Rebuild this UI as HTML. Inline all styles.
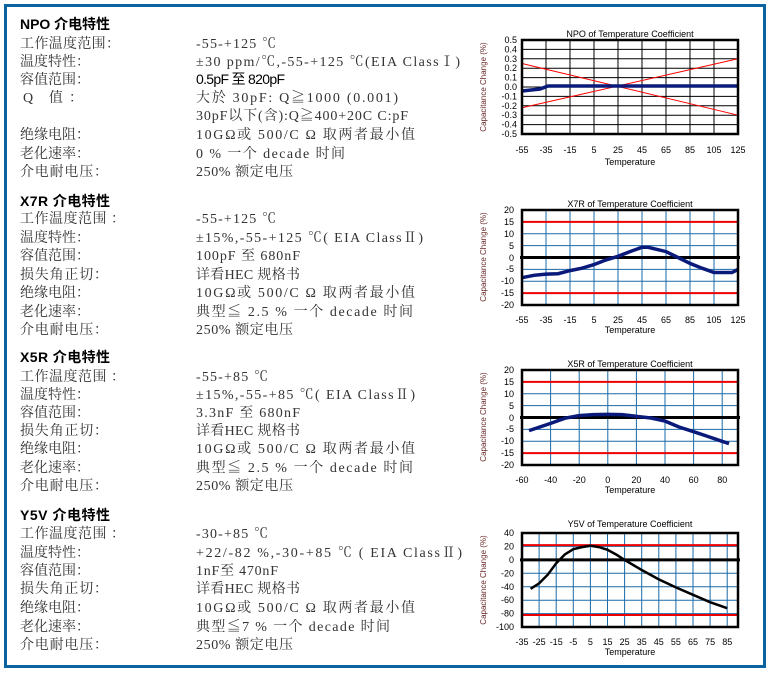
<!DOCTYPE html>
<html><head><meta charset="utf-8"><style>
html,body{margin:0;padding:0;background:#fff;}
svg{display:block;}
.t{font-family:"Liberation Serif","Noto Serif CJK SC",serif;font-size:14px;fill:#333;}
.h{font-family:"Liberation Sans","Noto Sans CJK SC",sans-serif;font-size:14px;font-weight:bold;fill:#000;}
.s{font-family:"Liberation Sans","Noto Sans CJK SC",sans-serif;font-size:14px;fill:#000;}
.a{font-family:"Liberation Sans",sans-serif;font-size:9px;fill:#000;}
.ct{font-family:"Liberation Sans",sans-serif;font-size:9px;fill:#000;}
.yt{font-family:"Liberation Sans",sans-serif;font-size:8px;fill:#6a2a2a;}
</style></head><body>
<svg width="770" height="677" viewBox="0 0 770 677" xmlns="http://www.w3.org/2000/svg">
<rect x="5.5" y="5.5" width="759" height="661" fill="none" stroke="#0a64a0" stroke-width="3"/>

<!-- NPO text -->
<text class="h" x="20" y="29" textLength="90">NPO 介电特性</text>
<text class="t" x="20" y="48" textLength="100">工作温度范围：</text><text class="t" x="196" y="48" textLength="80">-55-+125 ℃</text>
<text class="t" x="20" y="66" textLength="70">温度特性：</text><text class="t" x="196" y="66" textLength="264">±30 ppm/℃,-55-+125 ℃(EIA ClassⅠ)</text>
<text class="t" x="20" y="84" textLength="70">容值范围：</text><text class="s" x="196" y="84" textLength="89">0.5pF 至 820pF</text>
<text class="t" x="23" y="102" textLength="60">Q 值：</text><text class="t" x="196" y="102" textLength="202">大於 30pF: Q≧1000 (0.001)</text>
<text class="t" x="196" y="120" textLength="212">30pF以下(含):Q≧400+20C C:pF</text>
<text class="t" x="20" y="139" textLength="70">绝缘电阻：</text><text class="t" x="196" y="139" textLength="219">10GΩ或 500/C Ω 取两者最小值</text>
<text class="t" x="20" y="158" textLength="70">老化速率：</text><text class="t" x="196" y="158" textLength="149">0 % 一个 decade 时间</text>
<text class="t" x="20" y="176" textLength="88">介电耐电压：</text><text class="t" x="196" y="176" textLength="97">250% 额定电压</text>

<!-- X7R text -->
<text class="h" x="20" y="206" textLength="90">X7R 介电特性</text>
<text class="t" x="20" y="223" textLength="105">工作温度范围 ：</text><text class="t" x="196" y="223" textLength="80">-55-+125 ℃</text>
<text class="t" x="20" y="242" textLength="70">温度特性：</text><text class="t" x="196" y="242" textLength="227">±15%,-55-+125 ℃( EIA ClassⅡ)</text>
<text class="t" x="20" y="260" textLength="70">容值范围：</text><text class="t" x="196" y="260" textLength="104">100pF 至 680nF</text>
<text class="t" x="20" y="279" textLength="88">损失角正切：</text><text class="t" x="196" y="279" textLength="104">详看HEC 规格书</text>
<text class="t" x="20" y="297" textLength="70">绝缘电阻：</text><text class="t" x="196" y="297" textLength="219">10GΩ或 500/C Ω 取两者最小值</text>
<text class="t" x="20" y="316" textLength="70">老化速率：</text><text class="t" x="196" y="316" textLength="217">典型≦ 2.5 % 一个 decade 时间</text>
<text class="t" x="20" y="334" textLength="88">介电耐电压：</text><text class="t" x="196" y="334" textLength="97">250% 额定电压</text>

<!-- X5R text -->
<text class="h" x="20" y="362" textLength="90">X5R 介电特性</text>
<text class="t" x="20" y="381" textLength="105">工作温度范围 ：</text><text class="t" x="196" y="381" textLength="72">-55-+85 ℃</text>
<text class="t" x="20" y="399" textLength="70">温度特性：</text><text class="t" x="196" y="399" textLength="219">±15%,-55-+85 ℃( EIA ClassⅡ)</text>
<text class="t" x="20" y="417" textLength="70">容值范围：</text><text class="t" x="196" y="417" textLength="104">3.3nF 至 680nF</text>
<text class="t" x="20" y="435" textLength="88">损失角正切：</text><text class="t" x="196" y="435" textLength="104">详看HEC 规格书</text>
<text class="t" x="20" y="453" textLength="70">绝缘电阻：</text><text class="t" x="196" y="453" textLength="219">10GΩ或 500/C Ω 取两者最小值</text>
<text class="t" x="20" y="472" textLength="70">老化速率：</text><text class="t" x="196" y="472" textLength="217">典型≦ 2.5 % 一个 decade 时间</text>
<text class="t" x="20" y="490" textLength="88">介电耐电压：</text><text class="t" x="196" y="490" textLength="97">250% 额定电压</text>

<!-- Y5V text -->
<text class="h" x="20" y="520" textLength="90">Y5V 介电特性</text>
<text class="t" x="20" y="538" textLength="105">工作温度范围 ：</text><text class="t" x="196" y="538" textLength="72">-30-+85 ℃</text>
<text class="t" x="20" y="557" textLength="70">温度特性：</text><text class="t" x="196" y="557" textLength="266">+22/-82 %,-30-+85 ℃ ( EIA ClassⅡ)</text>
<text class="t" x="20" y="575" textLength="70">容值范围：</text><text class="t" x="196" y="575" textLength="82">1nF至 470nF</text>
<text class="t" x="20" y="593" textLength="88">损失角正切：</text><text class="t" x="196" y="593" textLength="104">详看HEC 规格书</text>
<text class="t" x="20" y="612" textLength="70">绝缘电阻：</text><text class="t" x="196" y="612" textLength="219">10GΩ或 500/C Ω 取两者最小值</text>
<text class="t" x="20" y="631" textLength="70">老化速率：</text><text class="t" x="196" y="631" textLength="194">典型≦7 % 一个 decade 时间</text>
<text class="t" x="20" y="649" textLength="88">介电耐电压：</text><text class="t" x="196" y="649" textLength="97">250% 额定电压</text>

<!-- NPO chart -->
<text class="ct" x="630" y="37" text-anchor="middle">NPO of  Temperature Coefficient</text>
<path d="M546 40V134M570 40V134M594 40V134M618 40V134M642 40V134M666 40V134M690 40V134M714 40V134M522 49.4H738M522 58.8H738M522 68.2H738M522 77.6H738M522 87H738M522 96.4H738M522 105.8H738M522 115.2H738M522 124.6H738" stroke="#000" stroke-width="1"/>
<line x1="522" y1="63.5" x2="738" y2="115.2" stroke="#f00" stroke-width="1"/>
<line x1="522" y1="107.7" x2="738" y2="58.8" stroke="#f00" stroke-width="1"/>
<path d="M522 91L540 89L548 86L738 86" stroke="#0a1a7a" stroke-width="3.5" fill="none"/>
<rect x="522" y="40" width="216" height="94" fill="none" stroke="#000" stroke-width="2.5"/>
<g class="a" text-anchor="end">
<text x="517" y="43">0.5</text><text x="517" y="52.4">0.4</text><text x="517" y="61.8">0.3</text><text x="517" y="71.2">0.2</text><text x="517" y="80.6">0.1</text><text x="517" y="90">0.0</text><text x="517" y="99.4">-0.1</text><text x="517" y="108.8">-0.2</text><text x="517" y="118.2">-0.3</text><text x="517" y="127.6">-0.4</text><text x="517" y="137">-0.5</text>
</g>
<g class="a" text-anchor="middle">
<text x="522" y="153">-55</text><text x="546" y="153">-35</text><text x="570" y="153">-15</text><text x="594" y="153">5</text><text x="618" y="153">25</text><text x="642" y="153">45</text><text x="666" y="153">65</text><text x="690" y="153">85</text><text x="714" y="153">105</text><text x="738" y="153">125</text>
<text x="630" y="165">Temperature</text>
</g>
<text class="yt" transform="translate(486,87) rotate(-90)" text-anchor="middle">Capacitance Change (%)</text>

<!-- X7R chart -->
<text class="ct" x="630" y="207" text-anchor="middle">X7R of  Temperature Coefficient</text>
<path d="M546 210V305M570 210V305M594 210V305M618 210V305M642 210V305M666 210V305M690 210V305M714 210V305M522 221.9H738M522 233.75H738M522 245.6H738M522 269.4H738M522 281.25H738M522 293.1H738" stroke="#1a6aa8" stroke-width="1"/>
<path d="M522 221.9H738M522 293.1H738" stroke="#e00" stroke-width="2"/>
<path d="M520 257.5H740" stroke="#000" stroke-width="3"/>
<polyline points="522,277.7 534,275.3 546,274.1 558,273.7 570,270.6 582,268.2 594,264.6 606,259.9 618,256.3 630,251.6 642,247.3 648,247.3 666,251.6 678,257.5 690,263.4 702,268.2 714,272.5 732,272.5 738,269.4" fill="none" stroke="#0a1a7a" stroke-width="3.5"/>
<rect x="522" y="210" width="216" height="95" fill="none" stroke="#000" stroke-width="2.5"/>
<g class="a" text-anchor="end">
<text x="514" y="213">20</text><text x="514" y="225">15</text><text x="514" y="237">10</text><text x="514" y="249">5</text><text x="514" y="261">0</text><text x="514" y="272">-5</text><text x="514" y="284">-10</text><text x="514" y="296">-15</text><text x="514" y="308">-20</text>
</g>
<g class="a" text-anchor="middle">
<text x="522" y="323">-55</text><text x="546" y="323">-35</text><text x="570" y="323">-15</text><text x="594" y="323">5</text><text x="618" y="323">25</text><text x="642" y="323">45</text><text x="666" y="323">65</text><text x="690" y="323">85</text><text x="714" y="323">105</text><text x="738" y="323">125</text>
<text x="630" y="333">Temperature</text>
</g>
<text class="yt" transform="translate(486,257) rotate(-90)" text-anchor="middle">Capacitance Change (%)</text>

<!-- X5R chart -->
<text class="ct" x="630" y="367" text-anchor="middle">X5R of  Temperature Coefficient</text>
<path d="M550.6 370V465M579.2 370V465M607.8 370V465M636.4 370V465M665 370V465M693.6 370V465M722.2 370V465M522 381.9H738M522 393.75H738M522 405.6H738M522 429.4H738M522 441.25H738M522 453.1H738" stroke="#1a6aa8" stroke-width="1"/>
<path d="M522 381.9H738M522 453.1H738" stroke="#e00" stroke-width="2"/>
<path d="M520 417.5H740" stroke="#000" stroke-width="3"/>
<polyline points="529,430.6 550.6,423.4 565,418.2 579,415.6 593.5,414.6 608,414.4 622,414.6 636,416.3 651,418 665,421.1 679,427 694,431.8 708,436.5 722,441.3 729,443.6" fill="none" stroke="#0a1a7a" stroke-width="3.5"/>
<rect x="522" y="370" width="216" height="95" fill="none" stroke="#000" stroke-width="2.5"/>
<g class="a" text-anchor="end">
<text x="514" y="373">20</text><text x="514" y="385">15</text><text x="514" y="397">10</text><text x="514" y="409">5</text><text x="514" y="421">0</text><text x="514" y="432">-5</text><text x="514" y="444">-10</text><text x="514" y="456">-15</text><text x="514" y="468">-20</text>
</g>
<g class="a" text-anchor="middle">
<text x="522" y="483">-60</text><text x="550.6" y="483">-40</text><text x="579.2" y="483">-20</text><text x="607.8" y="483">0</text><text x="636.4" y="483">20</text><text x="665" y="483">40</text><text x="693.6" y="483">60</text><text x="722.2" y="483">80</text>
<text x="630" y="493">Temperature</text>
</g>
<text class="yt" transform="translate(486,417) rotate(-90)" text-anchor="middle">Capacitance Change (%)</text>

<!-- Y5V chart -->
<text class="ct" x="630" y="527" text-anchor="middle">Y5V of  Temperature Coefficient</text>
<path d="M539.1 533V627M556.2 533V627M573.3 533V627M590.4 533V627M607.5 533V627M624.6 533V627M641.7 533V627M658.8 533V627M675.9 533V627M693 533V627M710.1 533V627M727.2 533V627M522 546.4H738M522 573.3H738M522 586.7H738M522 600.2H738M522 613.6H738" stroke="#1a6aa8" stroke-width="1"/>
<path d="M522 545.1H738M522 615H738" stroke="#e00" stroke-width="2"/>
<path d="M520 559.9H740" stroke="#000" stroke-width="3"/>
<polyline points="530.6,588.8 539.1,583.4 547.7,574.7 556.2,563.3 564.8,554.5 573.3,549.2 581.9,547.1 590.4,545.8 599,547.1 607.5,549.8 616.1,554.5 624.6,559.9 641.7,570 658.8,579.4 675.9,587.4 693,594.8 710.1,602.2 727.2,608.2" fill="none" stroke="#000" stroke-width="2.5"/>
<rect x="522" y="533" width="216" height="94" fill="none" stroke="#000" stroke-width="2.5"/>
<g class="a" text-anchor="end">
<text x="514" y="536">40</text><text x="514" y="549.5">20</text><text x="514" y="563">0</text><text x="514" y="576.5">-20</text><text x="514" y="590">-40</text><text x="514" y="603">-60</text><text x="514" y="616.5">-80</text><text x="514" y="630">-100</text>
</g>
<g class="a" text-anchor="middle">
<text x="522" y="645">-35</text><text x="539.1" y="645">-25</text><text x="556.2" y="645">-15</text><text x="573.3" y="645">-5</text><text x="590.4" y="645">5</text><text x="607.5" y="645">15</text><text x="624.6" y="645">25</text><text x="641.7" y="645">35</text><text x="658.8" y="645">45</text><text x="675.9" y="645">55</text><text x="693" y="645">65</text><text x="710.1" y="645">75</text><text x="727.2" y="645">85</text>
<text x="630" y="655">Temperature</text>
</g>
<text class="yt" transform="translate(486,580) rotate(-90)" text-anchor="middle">Capacitance Change (%)</text>
</svg>
</body></html>
